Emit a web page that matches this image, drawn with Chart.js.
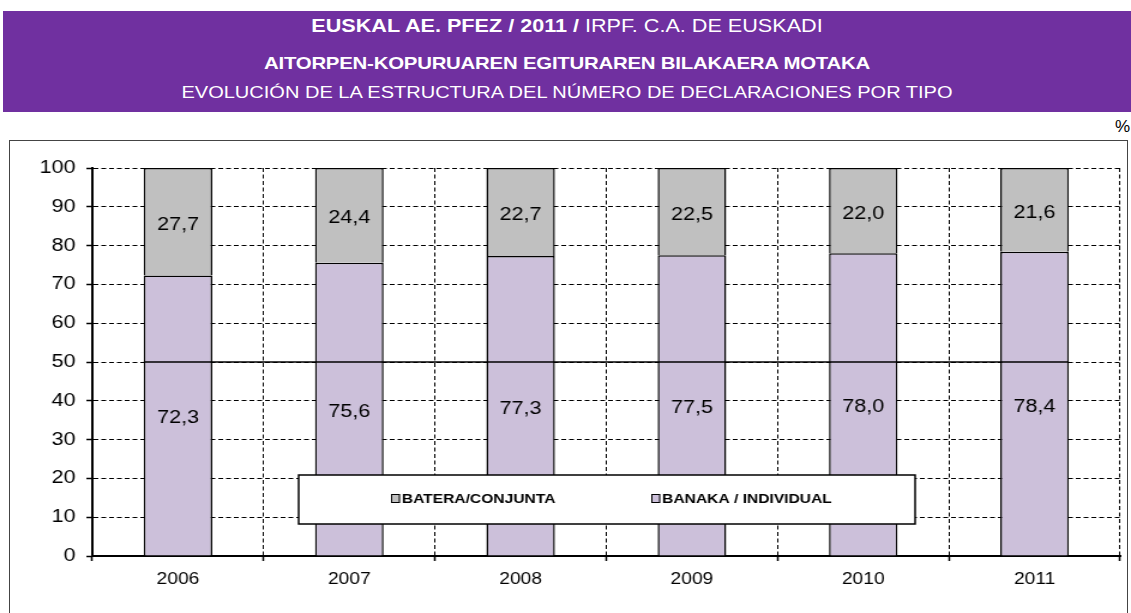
<!DOCTYPE html>
<html lang="es">
<head>
  <meta charset="UTF-8" />
  <title>IRPF C.A. de Euskadi 2011</title>
  <script src="https://cdn.jsdelivr.net/npm/chart.js"></script>
  <style>
    body {
      margin: 0;
      width: 1131px;
      height: 613px;
      overflow: hidden;
      background: #fff;
      font-family: 'Liberation Sans', Arial, sans-serif;
      position: relative;
    }
    .banner {
      position: absolute;
      left: 3px;
      top: 11px;
      width: 1128px;
      height: 101px;
      background: #7030a0;
      color: #fff;
      text-align: center;
    }
    .banner div {
      position: absolute;
      left: 0;
      right: 0;
      white-space: nowrap;
      transform: scaleX(1.2);
      transform-origin: center top;
    }
    .l1 { top: 5px; font-size: 18px; }
    .l2 { top: 43px; font-size: 17px; font-weight: bold; letter-spacing: -0.2px; }
    .l3 { top: 72px; font-size: 16.7px; }
    .frame {
      position: absolute;
      left: 9px;
      top: 140px;
      width: 1117px;
      height: 500px;
      border: 1.5px solid #444;
    }
    .pct {
      position: absolute;
      left: 1115px;
      top: 117px;
      font-size: 17px;
    }
    #chart {
      position: absolute;
      left: 0;
      top: 0;
    }
  </style>
</head>
<body>
  <div class="banner">
    <div class="l1"><b>EUSKAL AE. PFEZ / 2011 /</b> IRPF. C.A. DE EUSKADI</div>
    <div class="l2">AITORPEN-KOPURUAREN EGITURAREN BILAKAERA MOTAKA</div>
    <div class="l3">EVOLUCIÓN DE LA ESTRUCTURA DEL NÚMERO DE DECLARACIONES POR TIPO</div>
  </div>
  <div class="frame"></div>
  <div class="pct">%</div>
  <!-- the source picture is stretched sideways, so the drawing is stretched the same way -->
  <canvas id="chart" width="943" height="613" style="width:1131px;height:613px"></canvas>

  <script>
    const years = ['2006', '2007', '2008', '2009', '2010', '2011'];
    const banaka = [72.3, 75.6, 77.3, 77.5, 78.0, 78.4];
    const batera = [27.7, 24.4, 22.7, 22.5, 22.0, 21.6];
    const yTicks = [0, 10, 20, 30, 40, 50, 60, 70, 80, 90, 100];

    const FONT = '"Liberation Sans", Arial, sans-serif';

    // values written in the middle of each bar piece
    const valueLabels = {
      id: 'valueLabels',
      afterDatasetsDraw(chart) {
        const ctx = chart.ctx;
        ctx.save();
        ctx.font = '18px ' + FONT;
        ctx.fillStyle = '#000';
        ctx.textAlign = 'center';
        ctx.textBaseline = 'middle';
        chart.data.datasets.forEach((ds, i) => {
          chart.getDatasetMeta(i).data.forEach((bar, j) => {
            const mid = (bar.y + bar.base) / 2;
            ctx.fillText(ds.data[j].toFixed(1).replace('.', ','), bar.x, mid + 3);
          });
        });
        ctx.restore();
      }
    };

    // solid line at 50 running across the bars
    const midLine = {
      id: 'midLine',
      afterDatasetsDraw(chart) {
        const meta = chart.getDatasetMeta(0).data;
        const y = chart.scales.y.getPixelForValue(50);
        const first = meta[0], last = meta[meta.length - 1];
        const ctx = chart.ctx;
        ctx.save();
        ctx.strokeStyle = '#000';
        ctx.lineWidth = 1.5;
        ctx.beginPath();
        ctx.moveTo(first.x - first.width / 2, y);
        ctx.lineTo(last.x + last.width / 2, y);
        ctx.stroke();
        ctx.restore();
      }
    };

    // boxed legend sitting inside the plot
    const boxLegend = {
      id: 'boxLegend',
      afterDraw(chart) {
        const ctx = chart.ctx;
        const x0 = 249, y0 = 475, w = 514, h = 49;
        ctx.save();
        ctx.fillStyle = '#fff';
        ctx.fillRect(x0, y0, w, h);
        ctx.strokeStyle = '#000';
        ctx.lineWidth = 1.5;
        ctx.strokeRect(x0, y0, w, h);
        ctx.font = 'bold 13px ' + FONT;
        ctx.textBaseline = 'middle';
        const items = chart.data.datasets.slice().reverse();
        const starts = [326, 543];
        items.forEach((ds, i) => {
          const sx = starts[i];
          ctx.fillStyle = ds.backgroundColor;
          ctx.fillRect(sx, 494, 7.5, 9);
          ctx.strokeStyle = '#000';
          ctx.lineWidth = 1;
          ctx.strokeRect(sx + 0.5, 494.5, 6.5, 8);
          ctx.fillStyle = '#000';
          ctx.fillText(ds.label, sx + 9, 499);
        });
        ctx.restore();
      }
    };

    new Chart(document.getElementById('chart'), {
      type: 'bar',
      data: {
        labels: years,
        datasets: [
          { label: 'BANAKA / INDIVIDUAL', data: banaka, backgroundColor: '#ccc0da', borderColor: '#000', borderWidth: 1.5 },
          { label: 'BATERA/CONJUNTA', data: batera, backgroundColor: '#c0c0c0', borderColor: '#000', borderWidth: 1.5 }
        ]
      },
      options: {
        responsive: false,
        animation: false,
        devicePixelRatio: 1,
        barPercentage: 0.4,
        categoryPercentage: 1,
        layout: { padding: { top: 168, left: 5, right: 9, bottom: 0 } },
        plugins: {
          legend: { display: false },
          tooltip: { enabled: false }
        },
        scales: {
          x: {
            stacked: true,
            afterFit(scale) { scale.height = 57; },
            grid: { color: '#000', lineWidth: 1, tickLength: 5, tickColor: '#000', tickWidth: 1.5 },
            border: { color: '#000', width: 2, dash: [4, 2.5] },
            ticks: { color: '#000', font: { family: FONT, size: 16 }, padding: 9 }
          },
          y: {
            stacked: true,
            min: 0,
            max: 100,
            afterFit(scale) { scale.width = 72; },
            afterBuildTicks(scale) { scale.ticks = yTicks.map(v => ({ value: v })); },
            grid: { color: '#000', lineWidth: 1, tickLength: 5, tickColor: '#000', tickWidth: 1.5 },
            border: { color: '#000', width: 2, dash: [4, 2.5] },
            ticks: { color: '#000', font: { family: FONT, size: 18 }, padding: 9 }
          }
        }
      },
      plugins: [midLine, valueLabels, boxLegend]
    });
  </script>
</body>
</html>
